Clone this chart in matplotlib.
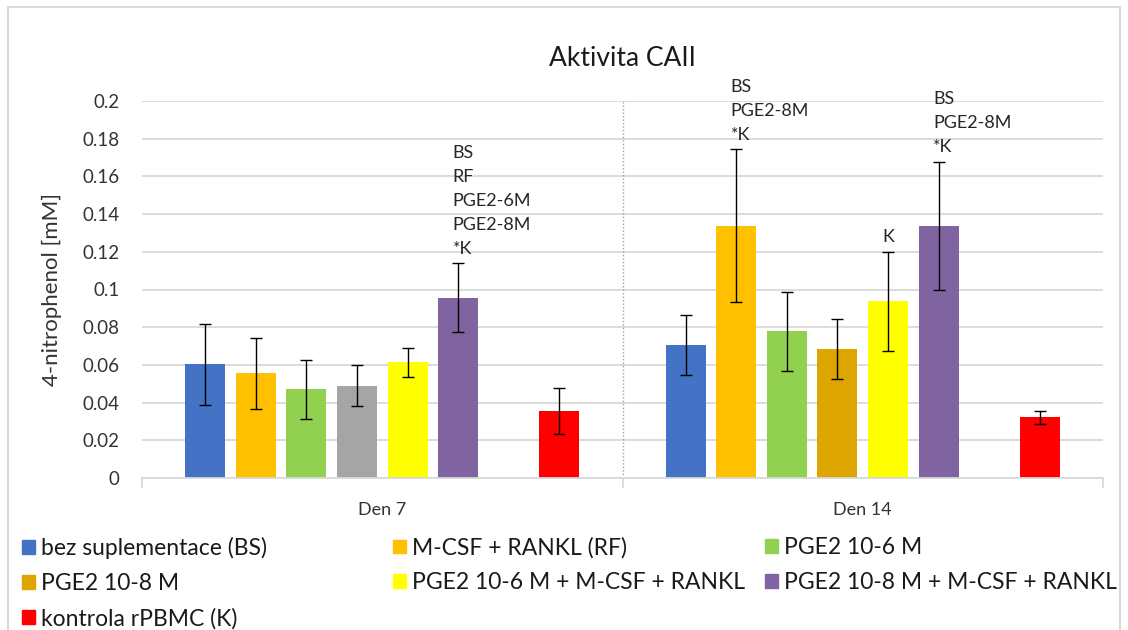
import matplotlib.pyplot as plt
import numpy as np
from matplotlib.patches import Rectangle, Patch

plt.rcParams['font.family'] = ['Lato', 'DejaVu Sans']

# data
groups = ['Den 7', 'Den 14']
series = ['bez suplementace (BS)', 'M-CSF + RANKL (RF)', 'PGE2 10-6 M',
          'PGE2 10-8 M', 'PGE2 10-6 M + M-CSF + RANKL',
          'PGE2 10-8 M + M-CSF + RANKL', 'kontrola rPBMC (K)']
colors = ['#4472C4', '#FFC000', '#92D050', '#DDA500', '#FFFF00', '#8064A2', '#FF0000']
# in Den 7 the PGE2 10-8 M bar is drawn grey
den7_colors = ['#4472C4', '#FFC000', '#92D050', '#A5A5A5', '#FFFF00', '#8064A2', '#FF0000']

den7 = [0.0603, 0.0555, 0.0470, 0.0490, 0.0613, 0.0955, 0.0357]
den7_err = [0.0215, 0.0187, 0.0157, 0.0110, 0.0075, 0.0183, 0.0123]
den14 = [0.0705, 0.1338, 0.0778, 0.0683, 0.0937, 0.1337, 0.0322]
den14_err = [0.0160, 0.0405, 0.0210, 0.0160, 0.0262, 0.0342, 0.0035]

# significance labels: (group, series index, text)
notes = [(0, 5, 'BS\nRF\nPGE2-6M\nPGE2-8M\n*K'),
         (1, 1, 'BS\nPGE2-8M\n*K'),
         (1, 4, 'K'),
         (1, 5, 'BS\nPGE2-8M\n*K')]

fig = plt.figure(figsize=(11.28, 6.3), dpi=100)
ax = fig.add_axes([142/1128, 1-478/630, 961/1128, 377/630])

n_slots = 8          # Excel left an empty slot before the control
slot = [0, 1, 2, 3, 4, 5, 7]
step = 0.1053
width = 0.0832
x = np.arange(len(groups))

vals = [den7, den14]
errs = [den7_err, den14_err]
cols = [den7_colors, colors]
for g in range(len(groups)):
    for i in range(len(series)):
        xp = x[g] + (slot[i] - (n_slots - 1) / 2) * step
        ax.bar(xp, vals[g][i], width, color=cols[g][i], zorder=2)
        ax.errorbar(xp, vals[g][i], yerr=errs[g][i], color='black',
                    elinewidth=1, capsize=4, capthick=1, zorder=3)

for g, i, txt in notes:
    xp = x[g] + (slot[i] - (n_slots - 1) / 2) * step
    top = vals[g][i] + errs[g][i]
    ax.annotate(txt, (xp, top), xytext=(-4, 5), textcoords='offset points',
                ha='left', va='bottom', fontsize=13, linespacing=1.6,
                color='#262626')

ax.set_ylim(0, 0.2)
ax.set_xlim(-0.5, 1.5)
ax.set_yticks(np.arange(0, 0.201, 0.02))
ax.set_yticklabels(['0', '0.02', '0.04', '0.06', '0.08', '0.1', '0.12',
                    '0.14', '0.16', '0.18', '0.2'])
ax.tick_params(axis='y', length=0, pad=16, labelsize=13.5, labelcolor='#333333')
ax.grid(axis='y', color='#d9d9d9', lw=1.3, zorder=0)
ax.set_axisbelow(True)

ax.set_xticks([-0.5, 0.5, 1.5])
ax.set_xticklabels([])
ax.tick_params(axis='x', which='major', length=7, color='#d9d9d9', width=1.3)
ax.set_xticks(x, minor=True)
ax.set_xticklabels(groups, minor=True)
ax.tick_params(axis='x', which='minor', length=0, pad=17, labelsize=13,
               labelcolor='#333333')
ax.axvline(0.5, color='#a0a0a0', lw=1, ls=(0, (1, 1.5)), zorder=1)

for s in ['top', 'right', 'left']:
    ax.spines[s].set_visible(False)
ax.spines['bottom'].set_color('#d9d9d9')
ax.spines['bottom'].set_linewidth(1.3)

ax.set_title('Aktivita CAII', fontsize=19, pad=25, color='#1a1a1a')
ax.set_ylabel('4-nitrophenol [mM]', fontsize=16, color='#333333')
ax.yaxis.set_label_coords(-0.083, 0.5)

# legend in three fixed columns, row-major like Excel
handles = [Patch(color=c) for c in colors]
col_x = [22/1128, 393/1128, 765/1128]
for c in range(3):
    idx = list(range(c, len(series), 3))
    fig.legend([handles[k] for k in idx], [series[k] for k in idx],
               loc='upper left', bbox_to_anchor=(col_x[c], 1-537/630),
               frameon=False, fontsize=16.5, borderpad=0, borderaxespad=0,
               handlelength=0.55, handleheight=0.55, handletextpad=0.3,
               labelspacing=0.6, labelcolor='#1a1a1a')

fig.add_artist(Rectangle((8/1128, -0.05), 1112/1128, 1.05 - 7/630,
                         transform=fig.transFigure, fill=False,
                         ec='#d9d9d9', lw=1.5))

plt.savefig('out.png', dpi=100)
